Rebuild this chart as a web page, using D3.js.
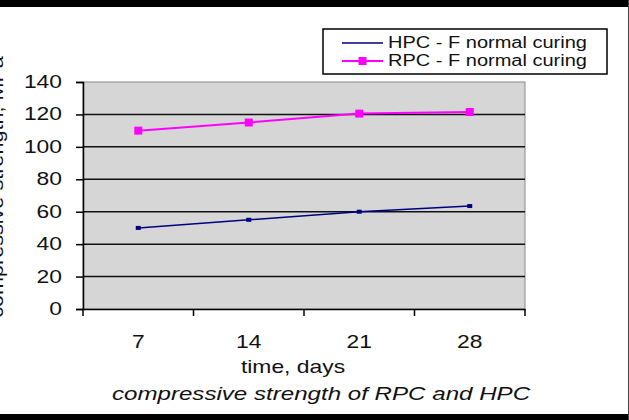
<!DOCTYPE html>
<html>
<head>
<meta charset="utf-8">
<script src="https://cdn.jsdelivr.net/npm/d3@7"></script>
<style>
  body { margin: 0; background: #fff; }
  svg { display: block; }
  .lbl { font-family: "Liberation Sans", Arial, sans-serif; fill: #111; }
</style>
</head>
<body>
<div id="chart"></div>
<script>
// Chart data
const days = ['7', '14', '21', '28'];
const hpcValues = [50, 55, 60, 63.5];
const rpcValues = [110, 115, 120.5, 121.5];
const yTicks = [0, 20, 40, 60, 80, 100, 120, 140];
const seriesNames = ['HPC - F normal curing', 'RPC - F normal curing'];

const W = 629, H = 420;
const plot = { left: 83, right: 525, top: 82, bottom: 309 };
const stretch = 1.27; // text in the source is wider than normal

const svg = d3.select('#chart')
  .append('svg')
  .attr('width', W)
  .attr('height', H);

// Black bars of the source image
svg.append('rect').attr('x', 0).attr('y', 0).attr('width', W).attr('height', 7).attr('fill', '#000');
svg.append('rect').attr('x', 0).attr('y', 414).attr('width', W).attr('height', 6).attr('fill', '#000');
svg.append('rect').attr('x', W - 1).attr('y', 0).attr('width', 1).attr('height', H).attr('fill', '#444');

// Scales
const x = d3.scaleBand().domain(days).range([plot.left, plot.right]).padding(0);
const y = d3.scaleLinear().domain([0, 140]).range([plot.bottom, plot.top]);
const cx = d => x(d) + x.bandwidth() / 2;

// Helper for horizontally stretched text
function label(txt, px, py, size, anchor, sx, extra) {
  return svg.append('text')
    .attr('class', 'lbl')
    .attr('transform', `translate(${px},${py}) ${extra || ''} scale(${sx},1)`)
    .attr('text-anchor', anchor)
    .style('font-size', size + 'px')
    .text(txt);
}

// Plot background
svg.append('rect')
  .attr('x', plot.left).attr('y', plot.top)
  .attr('width', plot.right - plot.left).attr('height', plot.bottom - plot.top)
  .attr('fill', '#d6d6d6')
  .attr('stroke', '#8a8a8a')
  .attr('stroke-width', 1);

// Gridlines
svg.append('g')
  .selectAll('line')
  .data(yTicks.filter(v => v > 0 && v < 140))
  .enter()
  .append('line')
  .attr('x1', plot.left).attr('x2', plot.right)
  .attr('y1', d => y(d)).attr('y2', d => y(d))
  .attr('stroke', '#111')
  .attr('stroke-width', 1.5);

// Y axis
const yAxis = svg.append('g')
  .attr('transform', `translate(${plot.left},0)`)
  .call(d3.axisLeft(y).tickValues(yTicks).tickSize(7).tickFormat(''));
yAxis.select('.domain').attr('stroke', '#000').attr('stroke-width', 1.5);
yAxis.selectAll('.tick line').attr('stroke', '#000').attr('stroke-width', 1.5);

yTicks.forEach(v => label(String(v), 62, y(v) + 6, 18, 'end', stretch));

// X axis
const xAxis = svg.append('g')
  .attr('transform', `translate(0,${plot.bottom})`)
  .call(d3.axisBottom(x).tickSize(0).tickFormat(''));
xAxis.select('.domain').attr('stroke', '#000').attr('stroke-width', 1.5);

// Ticks at the band edges
svg.append('g')
  .selectAll('line')
  .data(days.concat(['end']))
  .enter()
  .append('line')
  .attr('x1', (d, i) => i < days.length ? x(d) : plot.right)
  .attr('x2', (d, i) => i < days.length ? x(d) : plot.right)
  .attr('y1', plot.bottom).attr('y2', plot.bottom + 7)
  .attr('stroke', '#000')
  .attr('stroke-width', 1.5);

days.forEach(d => label(d, cx(d), 348, 18, 'middle', stretch));

// Axis titles
label('time, days', 293, 373, 18, 'middle', stretch);
label('compressive strength, MPa', 3, 187, 18, 'middle', 1.2, 'rotate(-90)');
label('compressive strength of RPC and HPC', 321, 400, 19, 'middle', stretch)
  .style('font-style', 'italic');

// Series lines
const line = d3.line().x((v, i) => cx(days[i])).y(v => y(v));

svg.append('path')
  .datum(hpcValues)
  .attr('d', line)
  .attr('fill', 'none')
  .attr('stroke', '#000080')
  .attr('stroke-width', 1.6);

svg.append('g')
  .selectAll('rect')
  .data(hpcValues)
  .enter()
  .append('rect')
  .attr('x', (v, i) => cx(days[i]) - 2.5)
  .attr('y', v => y(v) - 2)
  .attr('width', 5).attr('height', 4)
  .attr('fill', '#000080');

svg.append('path')
  .datum(rpcValues)
  .attr('d', line)
  .attr('fill', 'none')
  .attr('stroke', '#ff00ff')
  .attr('stroke-width', 2);

svg.append('g')
  .selectAll('rect')
  .data(rpcValues)
  .enter()
  .append('rect')
  .attr('x', (v, i) => cx(days[i]) - 4)
  .attr('y', v => y(v) - 4)
  .attr('width', 8).attr('height', 8)
  .attr('fill', '#ff00ff');

// Legend
const legend = svg.append('g').attr('transform', 'translate(323,29)');
legend.append('rect')
  .attr('width', 284).attr('height', 45)
  .attr('fill', '#fff')
  .attr('stroke', '#000')
  .attr('stroke-width', 1.5);

const legendColors = ['#000080', '#ff00ff'];
seriesNames.forEach((name, i) => {
  const ly = 14 + i * 18;
  legend.append('line')
    .attr('x1', 19).attr('x2', 60)
    .attr('y1', ly).attr('y2', ly)
    .attr('stroke', legendColors[i])
    .attr('stroke-width', i ? 2 : 1.6);
  if (i === 1) {
    legend.append('rect')
      .attr('x', 35.5).attr('y', ly - 4)
      .attr('width', 8).attr('height', 8)
      .attr('fill', legendColors[i]);
  }
  label(name, 388, 29 + ly + 5, 16, 'start', 1.25);
});
</script>
</body>
</html>
